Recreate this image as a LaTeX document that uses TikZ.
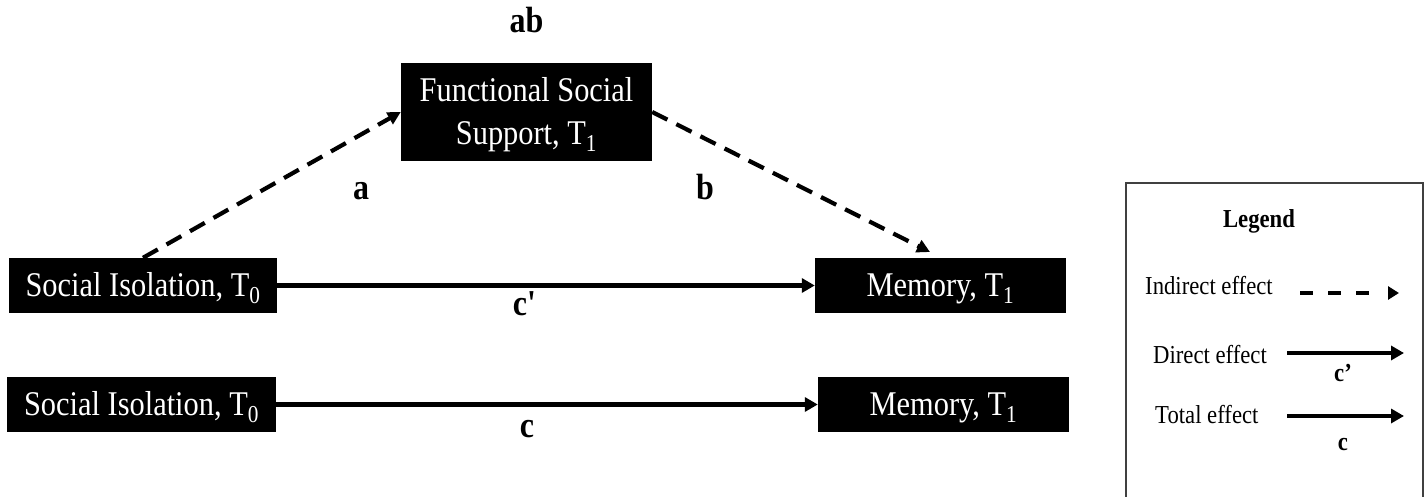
\documentclass[tikz,border=0pt]{standalone}
\usepackage{fontspec}
\setmainfont{Liberation Serif}
\usetikzlibrary{arrows.meta}

% type sizes used in the figure
\newcommand\boxfont{\fontsize{30.4}{38.6}\selectfont}
\newcommand\coeffont{\fontsize{32}{36}\selectfont}
\newcommand\legfont{\fontsize{22.7}{27}\selectfont}

\begin{document}
\begin{tikzpicture}[x=1pt,y=-1pt,
  varbox/.style={fill=black,text=white,inner sep=0pt,yscale=1.14,font=\boxfont,
                 text height=20.1pt,text depth=0pt,minimum height=48.2pt},
  txt/.style={inner sep=0pt,yscale=1.14,anchor=base},
  coef/.style={txt,font=\coeffont\bfseries},
  legtxt/.style={txt,font=\legfont},
  direct/.style={line width=4.5pt,-{Triangle[length=13pt,width=14pt]}},
  indirect/.style={line width=4.2pt,dash pattern=on 17pt off 10pt,
                   -{Triangle[length=13pt,width=13pt]}},
  legdirect/.style={line width=4.5pt,-{Triangle[length=13pt,width=14pt]}},
]
\useasboundingbox (0,0) rectangle (1426,497);
\clip (0,0) rectangle (1426,497);

% mediation model
\node[varbox,minimum width=268pt] (si1) at (143,285.5) {Social Isolation, T\textsubscript{0}};
\node[varbox,minimum width=251pt] (mem1) at (940.5,285.5) {Memory, T\textsubscript{1}};
\node[fill=black,inner sep=0pt,minimum width=251pt,minimum height=98pt] (fss) at (526.5,112) {};
\node[txt,font=\boxfont,text=white] (fss-l1) at (526.5,101.5) {Functional Social};
\node[txt,font=\boxfont,text=white] (fss-l2) at (526.5,145) {Support, T\textsubscript{1}};

\coordinate (b-tip) at (930,252);
\draw[indirect] (si1.north) -- (fss.west);
\draw[indirect] (fss.east) -- (b-tip);
\draw[direct] (si1) -- (mem1);

\node[coef] (lab-ab) at (526.5,33) {ab};
\node[coef] (lab-a) at (361,200) {a};
\node[coef] (lab-b) at (705,200) {b};
\node[coef] (lab-cp) at (524.5,315) {c\textquotesingle};

% total effect model
\node[varbox,minimum width=269pt] (si2) at (141.5,404.5) {Social Isolation, T\textsubscript{0}};
\node[varbox,minimum width=251pt] (mem2) at (943.5,404.5) {Memory, T\textsubscript{1}};
\draw[direct] (si2) -- (mem2);
\node[coef] (lab-c) at (527,437) {c};

% legend
\draw[line width=1.5pt,draw=black!75] (1126,183) rectangle (1423,540);
\node[legtxt,font=\legfont\bfseries] (leg-title) at (1259,227) {Legend};
\node[legtxt,anchor=base west] (leg-ind) at (1145,294) {Indirect effect};
\node[legtxt,anchor=base west] (leg-dir) at (1153,363) {Direct effect};
\node[legtxt,anchor=base west] (leg-tot) at (1155,423) {Total effect};

\coordinate (ind-s) at (1300,293);
\coordinate (ind-e) at (1399,293);
\draw[line width=4.2pt,dash pattern=on 13pt off 15pt on 13pt off 15pt on 13pt off 20pt,
      -{Triangle[length=11pt,width=13pt]}] (ind-s) -- (ind-e);
\coordinate (dir-s) at (1287,353);
\coordinate (dir-e) at (1404,353);
\draw[legdirect] (dir-s) -- (dir-e);
\coordinate (tot-s) at (1287,416);
\coordinate (tot-e) at (1404,416);
\draw[legdirect] (tot-s) -- (tot-e);

\node[legtxt,font=\legfont\bfseries] (leg-cp) at (1343,381) {c’};
\node[legtxt,font=\legfont\bfseries] (leg-c) at (1343,450) {c};
\end{tikzpicture}
\end{document}
